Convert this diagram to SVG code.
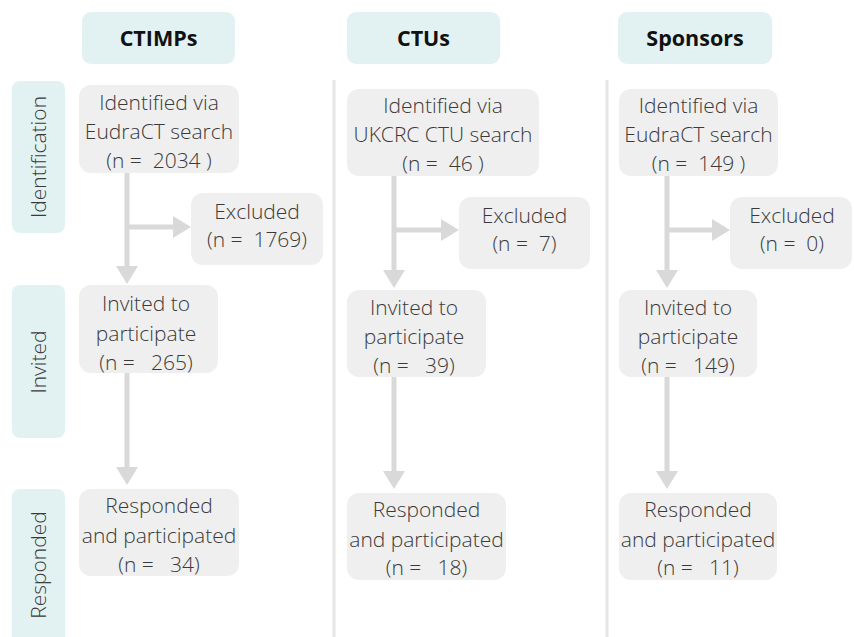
<svg xmlns="http://www.w3.org/2000/svg" width="854" height="637" viewBox="0 0 854 637">
<style>
.hdr{fill:#e2f2f3}
.side{fill:#e2f2f3}
.box{fill:#efefef}
.ht{font-family:"Open Sans","Liberation Sans",sans-serif;font-weight:bold;font-size:21.5px;fill:#111;text-anchor:middle}
.t{font-family:"Open Sans","Liberation Sans",sans-serif;font-weight:300;font-size:21px;fill:#3a3a3a;text-anchor:middle;white-space:pre}
.ln{stroke:#d9d9d9;stroke-width:5;fill:none}
.ah{fill:#d9d9d9}
.sep{stroke:#e6e6e6;stroke-width:3}
</style>
<rect width="854" height="637" fill="#fff"/>
<g id="separators">
<line class="sep" x1="334" y1="80" x2="334" y2="637"/>
<line class="sep" x1="607" y1="80" x2="607" y2="637"/>
</g>
<g id="h-ctimps"><rect class="hdr" x="82" y="12" width="153" height="52" rx="9"/><text class="ht" x="158.5" y="46">CTIMPs</text></g>
<g id="h-ctus"><rect class="hdr" x="347" y="12" width="153" height="52" rx="9"/><text class="ht" x="423.5" y="46">CTUs</text></g>
<g id="h-sponsors"><rect class="hdr" x="618" y="12" width="154" height="52" rx="9"/><text class="ht" x="695" y="46">Sponsors</text></g>
<g id="s-identification"><rect class="side" x="12" y="81" width="53" height="152" rx="8"/><text class="t" transform="translate(46,157) rotate(-90)">Identification</text></g>
<g id="s-invited"><rect class="side" x="12" y="285" width="53" height="153" rx="8"/><text class="t" transform="translate(46,362) rotate(-90)">Invited</text></g>
<g id="s-responded"><rect class="side" x="12" y="489" width="53" height="170" rx="8"/><text class="t" transform="translate(46,565) rotate(-90)">Responded</text></g>
<g id="connectors">
<line class="ln" x1="127" y1="173" x2="127" y2="268"/><polygon class="ah" points="116,266 138,266 127,284"/>
<line class="ln" x1="127" y1="227" x2="175" y2="227"/><polygon class="ah" points="173,216 173,238 191,227"/>
<line class="ln" x1="127" y1="373" x2="127" y2="469"/><polygon class="ah" points="116,467 138,467 127,485"/>
<line class="ln" x1="394" y1="176" x2="394" y2="272"/><polygon class="ah" points="383,270 405,270 394,288"/>
<line class="ln" x1="394" y1="230" x2="443" y2="230"/><polygon class="ah" points="441,219 441,241 459,230"/>
<line class="ln" x1="394" y1="377" x2="394" y2="473"/><polygon class="ah" points="383,471 405,471 394,489"/>
<line class="ln" x1="667" y1="176" x2="667" y2="272"/><polygon class="ah" points="656,270 678,270 667,288"/>
<line class="ln" x1="667" y1="230" x2="714" y2="230"/><polygon class="ah" points="712,219 712,241 730,230"/>
<line class="ln" x1="667" y1="377" x2="667" y2="473"/><polygon class="ah" points="656,471 678,471 667,489"/>
</g>
<g id="n-ctimps-identified"><rect class="box" x="79" y="85" width="160" height="88" rx="12"/>
<text class="t" x="159" y="110">Identified via</text><text class="t" x="159" y="139">EudraCT search</text><text class="t" x="159" y="168">(n =  2034 )</text></g>
<g id="n-ctimps-excluded"><rect class="box" x="191" y="193" width="132" height="72" rx="12"/>
<text class="t" x="257" y="219">Excluded</text><text class="t" x="257" y="247">(n =  1769)</text></g>
<g id="n-ctimps-invited"><rect class="box" x="79" y="285" width="139" height="88" rx="12"/>
<text class="t" x="146" y="311">Invited to</text><text class="t" x="146" y="341">participate</text><text class="t" x="146" y="370">(n =   265)</text></g>
<g id="n-ctimps-responded"><rect class="box" x="79" y="489" width="160" height="87" rx="12"/>
<text class="t" x="159" y="513">Responded</text><text class="t" x="159" y="543">and participated</text><text class="t" x="159" y="572">(n =   34)</text></g>
<g id="n-ctus-identified"><rect class="box" x="347" y="89" width="192" height="87" rx="12"/>
<text class="t" x="443" y="113">Identified via</text><text class="t" x="443" y="142">UKCRC CTU search</text><text class="t" x="443" y="171">(n =  46 )</text></g>
<g id="n-ctus-excluded"><rect class="box" x="459" y="197" width="131" height="72" rx="12"/>
<text class="t" x="524.5" y="223">Excluded</text><text class="t" x="524.5" y="251">(n =  7)</text></g>
<g id="n-ctus-invited"><rect class="box" x="347" y="290" width="139" height="87" rx="12"/>
<text class="t" x="414" y="315">Invited to</text><text class="t" x="414" y="344">participate</text><text class="t" x="414" y="373">(n =   39)</text></g>
<g id="n-ctus-responded"><rect class="box" x="347" y="493" width="159" height="87" rx="12"/>
<text class="t" x="426.5" y="517">Responded</text><text class="t" x="426.5" y="547">and participated</text><text class="t" x="426.5" y="575">(n =   18)</text></g>
<g id="n-sponsors-identified"><rect class="box" x="619" y="89" width="159" height="87" rx="12"/>
<text class="t" x="698.5" y="113">Identified via</text><text class="t" x="698.5" y="142">EudraCT search</text><text class="t" x="698.5" y="171">(n =  149 )</text></g>
<g id="n-sponsors-excluded"><rect class="box" x="730" y="197" width="122" height="72" rx="12"/>
<text class="t" x="792" y="223">Excluded</text><text class="t" x="792" y="251">(n =  0)</text></g>
<g id="n-sponsors-invited"><rect class="box" x="619" y="290" width="138" height="87" rx="12"/>
<text class="t" x="688" y="315">Invited to</text><text class="t" x="688" y="344">participate</text><text class="t" x="688" y="373">(n =   149)</text></g>
<g id="n-sponsors-responded"><rect class="box" x="619" y="493" width="158" height="87" rx="12"/>
<text class="t" x="698" y="517">Responded</text><text class="t" x="698" y="547">and participated</text><text class="t" x="698" y="575">(n =   11)</text></g>
</svg>
